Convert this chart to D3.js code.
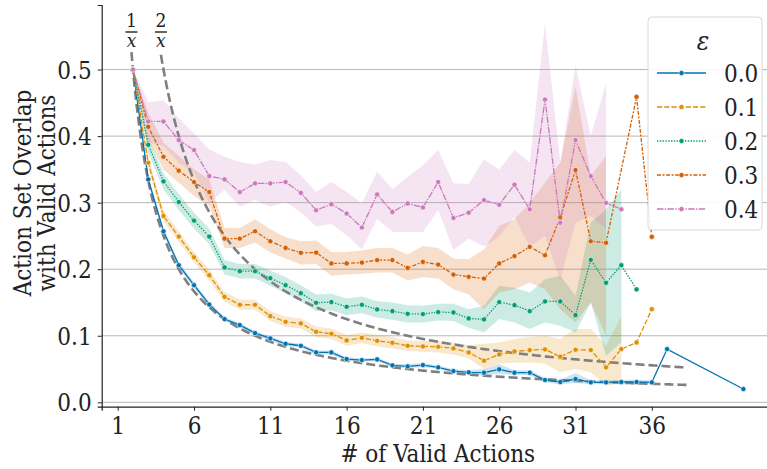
<!DOCTYPE html>
<html>
<head>
<meta charset="utf-8">
<script src="https://cdn.jsdelivr.net/npm/d3@7"></script>
<style>
  body { margin: 0; background: #fff; }
  svg text { fill: #222; font-stretch: condensed; }
</style>
</head>
<body>
<div id="chart"></div>
<script>
// Overlap do conjunto de acoes vs numero de acoes validas, por epsilon

const FONT = '"DejaVu Serif Condensed", "DejaVu Serif", serif';

const epsLabels = ['0.0', '0.1', '0.2', '0.3', '0.4'];
const colors = ['#0173b2', '#de8f05', '#029e73', '#d55e00', '#cc78bc'];

// valores medios (x = numero de acoes validas)
const x00 = [2,3,4,5,6,7,8,9,10,11,12,13,14,15,16,17,18,19,20,21,22,23,24,25,26,27,28,29,30,31,32,33,34,35,36,37,42];
const y00 = [0.5,0.335,0.257,0.206,0.176,0.147,0.125,0.116,0.104,0.096,0.088,0.085,0.075,0.075,0.065,0.0635,0.0645,0.0555,0.054,0.056,0.0525,0.047,0.045,0.0445,0.0495,0.0445,0.0445,0.0335,0.0305,0.035,0.030,0.030,0.0305,0.0305,0.030,0.080,0.020];

const x01 = [2,3,4,5,6,7,8,9,10,11,12,13,14,15,16,17,18,19,20,21,22,23,24,25,26,27,28,29,30,31,32,33,34,35,36];
const y01 = [0.5,0.36,0.28,0.249,0.218,0.191,0.1585,0.1466,0.1466,0.1296,0.121,0.1186,0.106,0.103,0.093,0.097,0.0925,0.0895,0.085,0.084,0.0835,0.081,0.075,0.0625,0.072,0.0765,0.0785,0.0795,0.0685,0.079,0.0785,0.0525,0.080,0.090,0.140];

const x02 = [2,3,4,5,6,7,8,9,10,11,12,13,14,15,16,17,18,19,20,21,22,23,24,25,26,27,28,29,30,31,32,33,34,35];
const y02 = [0.5,0.387,0.332,0.301,0.273,0.249,0.2027,0.197,0.197,0.1866,0.176,0.164,0.1496,0.1506,0.1436,0.1466,0.1396,0.137,0.133,0.1326,0.1356,0.135,0.126,0.1246,0.1506,0.146,0.137,0.1516,0.1516,0.131,0.214,0.1796,0.206,0.1697];

const x03 = [2,3,4,5,6,7,8,9,10,11,12,13,14,15,16,17,18,19,20,21,22,23,24,25,26,27,28,29,30,31,32,33,35,36];
const y03 = [0.5,0.414,0.369,0.348,0.331,0.316,0.246,0.246,0.257,0.242,0.232,0.2246,0.225,0.2087,0.2087,0.210,0.2137,0.2137,0.202,0.211,0.207,0.192,0.1886,0.186,0.2087,0.2197,0.2336,0.221,0.2778,0.349,0.242,0.2397,0.459,0.2487];

const x04 = [2,3,4,5,6,7,8,9,10,11,12,13,14,15,16,17,18,19,20,21,22,23,24,25,26,27,28,29,30,31,32,33,34];
const y04 = [0.5,0.422,0.422,0.394,0.379,0.34,0.335,0.316,0.329,0.329,0.331,0.3147,0.2887,0.2977,0.2837,0.2627,0.3123,0.286,0.2988,0.2928,0.331,0.277,0.285,0.3038,0.297,0.327,0.29,0.455,0.2697,0.394,0.34,0.2998,0.29];

// intervalos de confianca (faixas)
const bx00 = [2,3,4,5,6,7,8,9,10,11,12,13,14,15,16,17,18,19,20,21,22,23,24,25,26,27,28,29,30,31,32,33,34,35,36];
const lo00 = [0.5,0.330,0.253,0.202,0.172,0.143,0.122,0.113,0.101,0.093,0.085,0.082,0.072,0.072,0.062,0.061,0.062,0.053,0.051,0.053,0.050,0.044,0.042,0.040,0.043,0.041,0.041,0.030,0.027,0.029,0.027,0.027,0.027,0.027,0.027];
const hi00 = [0.5,0.340,0.261,0.210,0.180,0.151,0.128,0.119,0.107,0.099,0.091,0.088,0.078,0.078,0.068,0.066,0.067,0.058,0.057,0.059,0.055,0.050,0.048,0.050,0.057,0.048,0.048,0.037,0.034,0.044,0.033,0.033,0.034,0.034,0.033];

const bx01 = [2,3,4,5,6,7,8,9,10,11,12,13,14,15,16,17,18,19,20,21,22,23,24,25,26,27,28,29,30,31,32,33,34];
const lo01 = [0.5,0.352,0.272,0.241,0.210,0.183,0.151,0.139,0.139,0.122,0.113,0.111,0.098,0.095,0.085,0.089,0.084,0.081,0.077,0.076,0.075,0.072,0.066,0.05,0.058,0.06,0.06,0.058,0.045,0.05,0.045,0.025,0.03];
const hi01 = [0.5,0.368,0.288,0.257,0.226,0.199,0.166,0.154,0.154,0.137,0.129,0.126,0.114,0.111,0.101,0.105,0.101,0.098,0.093,0.092,0.092,0.090,0.086,0.088,0.09,0.095,0.098,0.10,0.095,0.11,0.11,0.085,0.13];

const bx02 = [2,3,4,5,6,7,8,9,10,11,12,13,14,15,16,17,18,19,20,21,22,23,24,25,26,27,28,29,30,31,32,33,34];
const lo02 = [0.5,0.375,0.320,0.289,0.261,0.237,0.192,0.186,0.186,0.175,0.164,0.152,0.137,0.138,0.131,0.134,0.127,0.124,0.120,0.120,0.123,0.122,0.112,0.105,0.125,0.12,0.11,0.12,0.115,0.105,0.15,0.07,0.09];
const hi02 = [0.5,0.399,0.344,0.313,0.285,0.261,0.214,0.208,0.208,0.198,0.188,0.176,0.162,0.163,0.156,0.159,0.152,0.150,0.146,0.145,0.148,0.148,0.140,0.145,0.175,0.172,0.165,0.185,0.19,0.16,0.27,0.29,0.32];

const bx03 = [2,3,4,5,6,7,8,9,10,11,12,13,14,15,16,17,18,19,20,21,22,23,24,25,26,27,28,29,30,31,32,33];
const lo03 = [0.5,0.395,0.35,0.33,0.31,0.295,0.232,0.232,0.24,0.225,0.216,0.207,0.208,0.19,0.192,0.193,0.195,0.195,0.183,0.188,0.186,0.17,0.162,0.14,0.165,0.17,0.18,0.17,0.14,0.12,0.15,0.10];
const hi03 = [0.5,0.435,0.39,0.37,0.35,0.335,0.262,0.262,0.275,0.26,0.248,0.242,0.243,0.226,0.226,0.228,0.232,0.232,0.222,0.235,0.232,0.216,0.215,0.23,0.265,0.275,0.30,0.33,0.36,0.475,0.34,0.37];

const bx04 = [2,3,4,5,6,7,8,9,10,11,12,13,14,15,16,17,18,19,20,21,22,23,24,25,26,27,28,29,30,31,32,33];
const lo04 = [0.5,0.39,0.385,0.36,0.345,0.30,0.319,0.294,0.304,0.294,0.301,0.286,0.264,0.268,0.251,0.23,0.276,0.256,0.256,0.256,0.289,0.229,0.246,0.234,0.249,0.279,0.234,0.25,0.184,0.27,0.28,0.26];
const hi04 = [0.5,0.451,0.454,0.427,0.404,0.38,0.369,0.361,0.357,0.364,0.361,0.341,0.316,0.331,0.316,0.299,0.347,0.32,0.339,0.356,0.379,0.329,0.328,0.365,0.35,0.379,0.36,0.569,0.36,0.506,0.40,0.479];

// curvas de referencia k/x
const refK = [1, 2];
const refLabels = ['1', '2'];
const refStart = [1.9, 3.83];
const refEnd = 38.3;

const xTicks = [1, 6, 11, 16, 21, 26, 31, 36];
const yTicks = [0.0, 0.1, 0.2, 0.3, 0.4, 0.5];

const series = [
  { x: x00, y: y00, bx: bx00, lo: lo00, hi: hi00 },
  { x: x01, y: y01, bx: bx01, lo: lo01, hi: hi01 },
  { x: x02, y: y02, bx: bx02, lo: lo02, hi: hi02 },
  { x: x03, y: y03, bx: bx03, lo: lo03, hi: hi03 },
  { x: x04, y: y04, bx: bx04, lo: lo04, hi: hi04 }
];
const dashes = ['', '5.2,2', '1.4,1.4', '3.9,1.6,2,1.6', '6.5,1.3,1.3,1.3'];

const W = 767, H = 469;
const svg = d3.select('#chart').append('svg')
  .attr('width', W).attr('height', H)
  .attr('font-family', FONT);

const x = d3.scaleLinear().domain([-0.05, 44]).range([101.7, 773.9]);
const y = d3.scaleLinear().domain([-0.0066, 0.597]).range([406.7, 5]);

// Grade horizontal
svg.append('g').selectAll('line')
  .data(yTicks).enter().append('line')
  .attr('x1', x.range()[0]).attr('x2', W)
  .attr('y1', d => y(d)).attr('y2', d => y(d))
  .attr('stroke', '#b8b8b8').attr('stroke-width', 1);

// Eixos
const gx = svg.append('g')
  .attr('transform', `translate(0,${y.range()[0]})`)
  .call(d3.axisBottom(x).tickValues(xTicks).tickSize(4).tickPadding(6).tickFormat(d3.format('d')));
gx.attr('font-family', FONT);
gx.select('.domain').attr('stroke', '#222').attr('stroke-width', 1.2);
gx.selectAll('.tick line').attr('stroke', '#222');
gx.selectAll('text').attr('font-size', 24).attr('fill', '#222');

const gy = svg.append('g')
  .attr('transform', `translate(${x.range()[0]},0)`)
  .call(d3.axisLeft(y).tickValues(yTicks).tickSize(4).tickPadding(6).tickFormat(d3.format('.1f')));
gy.attr('font-family', FONT);
gy.select('.domain').attr('stroke', '#222').attr('stroke-width', 1.2);
gy.selectAll('.tick line').attr('stroke', '#222');
gy.selectAll('text').attr('font-size', 24).attr('fill', '#222').attr('dy', '0.36em');

// Faixas
const area = d3.area().x(d => x(d[0])).y0(d => y(d[1])).y1(d => y(d[2]));
series.forEach((s, i) => {
  const pts = s.bx.map((v, k) => [v, s.lo[k], s.hi[k]]);
  svg.append('path').datum(pts)
    .attr('d', area)
    .attr('fill', colors[i]).attr('fill-opacity', 0.2)
    .attr('stroke', 'none');
});

// Curvas de referencia
const line = d3.line().x(d => x(d[0])).y(d => y(d[1]));
refK.forEach((k, i) => {
  const xsRef = d3.range(refStart[i], refEnd, 0.1).concat([refEnd]);
  svg.append('path').datum(xsRef.map(v => [v, k / v]))
    .attr('d', line)
    .attr('fill', 'none').attr('stroke', '#7f7f7f')
    .attr('stroke-width', 2.6).attr('stroke-dasharray', '9,4');

  const cx = x(refStart[i]);
  svg.append('text').attr('x', cx).attr('y', 27)
    .attr('text-anchor', 'middle').attr('font-size', 19).text(refLabels[i]);
  svg.append('line').attr('x1', cx - 6).attr('x2', cx + 6)
    .attr('y1', 32).attr('y2', 32).attr('stroke', '#222').attr('stroke-width', 1.4);
  svg.append('text').attr('x', cx).attr('y', 47)
    .attr('text-anchor', 'middle').attr('font-size', 19).attr('font-style', 'italic')
    .text('x');
});

// Linhas e marcadores
series.forEach((s, i) => {
  const pts = s.x.map((v, k) => [v, s.y[k]]);
  svg.append('path').datum(pts)
    .attr('d', line)
    .attr('fill', 'none').attr('stroke', colors[i])
    .attr('stroke-width', 1.3)
    .attr('stroke-dasharray', dashes[i] || null);
  svg.append('g').selectAll('circle')
    .data(pts).enter().append('circle')
    .attr('cx', d => x(d[0])).attr('cy', d => y(d[1]))
    .attr('r', 2.6)
    .attr('fill', colors[i]).attr('stroke', '#fff').attr('stroke-width', 0.6);
});

// Rotulos dos eixos
svg.append('text')
  .attr('x', (x.range()[0] + x.range()[1]) / 2).attr('y', 462)
  .attr('text-anchor', 'middle').attr('font-size', 24)
  .text('# of Valid Actions');

const yl = svg.append('text')
  .attr('transform', 'translate(31,193) rotate(-90)')
  .attr('text-anchor', 'middle').attr('font-size', 24);
yl.append('tspan').attr('x', 0).attr('dy', 0).text('Action Set Overlap');
yl.append('tspan').attr('x', 0).attr('dy', 24).text('with Valid Actions');

// Legenda
const lg = svg.append('g').attr('transform', 'translate(648,17)');
lg.append('rect')
  .attr('width', 114).attr('height', 213).attr('rx', 4)
  .attr('fill', '#fff').attr('fill-opacity', 0.9)
  .attr('stroke', '#d8d8d8').attr('stroke-width', 1);
lg.append('text').attr('x', 55).attr('y', 33)
  .attr('text-anchor', 'middle').attr('font-size', 26).attr('font-style', 'italic')
  .text('\u03b5');
epsLabels.forEach((lab, i) => {
  const ly = 56 + i * 34;
  lg.append('line').attr('x1', 9).attr('x2', 58).attr('y1', ly).attr('y2', ly)
    .attr('stroke', colors[i]).attr('stroke-width', 1.3)
    .attr('stroke-dasharray', dashes[i] || null);
  lg.append('circle').attr('cx', 33.5).attr('cy', ly).attr('r', 2.6)
    .attr('fill', colors[i]).attr('stroke', '#fff').attr('stroke-width', 0.6);
  lg.append('text').attr('x', 76).attr('y', ly + 9)
    .attr('font-size', 24).text(lab);
});
</script>
</body>
</html>
